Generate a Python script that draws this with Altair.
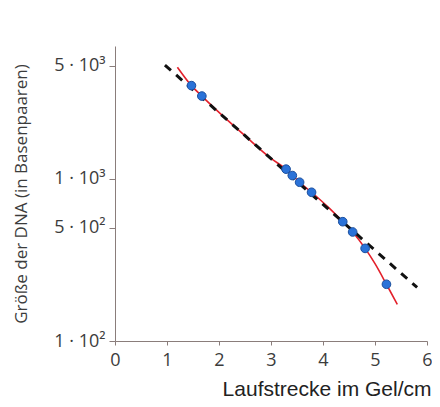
import altair as alt
import pandas as pd

# measured points (Laufstrecke in cm, Größe in bp)
pt_x = [1.47, 1.67, 3.29, 3.41, 3.55, 3.78, 4.38, 4.57, 4.81, 5.22]
pt_y = [3770, 3250, 1150, 1050, 955, 828, 545, 471, 373, 224]

# red calibration curve
curve_x = [1.2, 1.47, 1.67, 2.0, 2.5, 3.0, 3.29, 3.55, 3.78, 4.1, 4.38, 4.57, 4.81, 5.0, 5.22, 5.43]
curve_y = [4900, 3770, 3250, 2580, 1850, 1340, 1150, 955, 828, 670, 545, 471, 373, 300, 224, 168]

# dashed straight line
fit_x = [0.96, 5.81]
fit_y = [5050, 214]

y_ticks = [100, 500, 1000, 5000]
y_tick_labels = ["1 · 10²", "5 · 10²", "1 · 10³", "5 · 10³"]
x_ticks = [0, 1, 2, 3, 4, 5, 6]

pts = pd.DataFrame({"x": pt_x, "y": pt_y})
curve = pd.DataFrame({"x": curve_x, "y": curve_y})
fit = pd.DataFrame({"x": fit_x, "y": fit_y})

label_expr = " : ".join(
    [f"datum.value == {v} ? '{t}'" for v, t in zip(y_ticks, y_tick_labels)]
) + " : ''"

axis_col = "#8a7d7b"
text_col = "#3c3c3c"

xscale = alt.Scale(domain=[0, 6], nice=False, zero=False)
yscale = alt.Scale(type="log", domain=[100, 6620], nice=False)

xaxis = alt.Axis(
    values=x_ticks, grid=False, domainColor=axis_col, tickColor=axis_col,
    tickSize=4, labelFontSize=18, labelFont="Open Sans", labelColor=text_col,
    labelPadding=6, title="Laufstrecke im Gel/cm", titleFont="Liberation Sans",
    titleFontSize=21, titleFontWeight="normal", titleColor="#222222",
    titleAnchor="end", titleAlign="right", titleX=316, titleY=54,
    titleBaseline="alphabetic", labelFlush=False,
)
yaxis = alt.Axis(
    values=y_ticks, grid=False, domainColor=axis_col, tickColor=axis_col,
    tickSize=6, labelFontSize=18, labelFont="Open Sans", labelColor=text_col,
    labelPadding=4, labelExpr=label_expr,
    title="Größe der DNA (in Basenpaaren)", titleFont="Open Sans",
    titleFontSize=17, titleFontWeight="normal", titleColor=text_col,
    titleX=-94, titleBaseline="middle", titleAngle=-90,
)

enc_x = alt.X("x:Q", scale=xscale, axis=xaxis)
enc_y = alt.Y("y:Q", scale=yscale, axis=yaxis)

red = alt.Chart(curve).mark_line(color="#e3202b", strokeWidth=1.6, interpolate="monotone").encode(
    x=enc_x, y=enc_y
)
dash = alt.Chart(fit).mark_line(color="#111111", strokeWidth=3, strokeDash=[8, 7]).encode(
    x=alt.X("x:Q", scale=xscale), y=alt.Y("y:Q", scale=yscale)
)
dots = alt.Chart(pts).mark_point(
    filled=True, size=75, color="#2a72d8", stroke="#1b4f9e", strokeWidth=1, opacity=1
).encode(x=alt.X("x:Q", scale=xscale), y=alt.Y("y:Q", scale=yscale))

chart = alt.layer(red, dash, dots).properties(
    width=312, height=295,
    autosize=alt.AutoSizeParams(type="none"),
    padding={"left": 107, "top": 38, "right": 5, "bottom": 58},
).configure_view(stroke=None)

chart.save("out.html", embed_options={"renderer": "svg", "actions": False})
